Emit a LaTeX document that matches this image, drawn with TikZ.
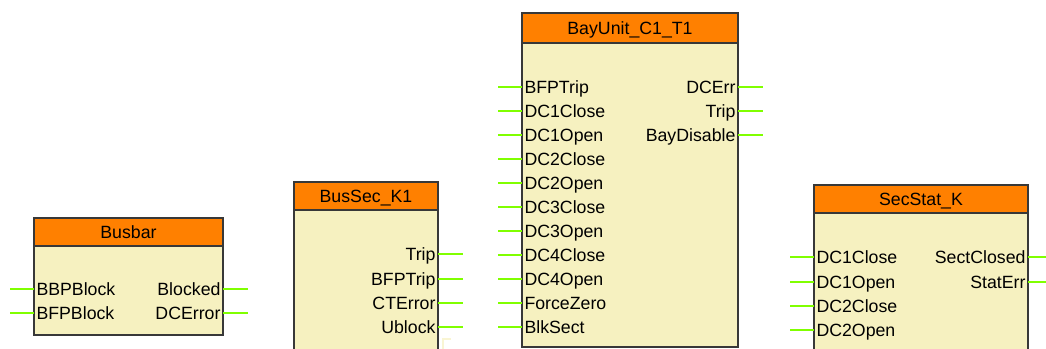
\documentclass[tikz,border=0pt]{standalone}
\usepackage{fontspec}
\setmainfont{Liberation Sans}

\definecolor{headorange}{RGB}{255,128,0}
\definecolor{bodyyellow}{RGB}{246,241,192}
\definecolor{wiregreen}{RGB}{128,255,0}
\definecolor{framegray}{RGB}{56,56,56}

\tikzset{every picture/.style={line width=0.75pt}}
\tikzset{
  blockbody/.style={draw=framegray, fill=bodyyellow, line width=1.6pt},
  blockhead/.style={draw=framegray, fill=headorange, line width=1.6pt},
  pinwire/.style={draw=wiregreen, line width=1.5pt},
  pinlabel/.style={inner sep=1.5pt, text height=9.4pt, text depth=0pt, font=\fontsize{13.3}{15}\selectfont},
  blocktitle/.style={inner sep=0.75pt, text height=9.4pt, text depth=0pt, font=\fontsize{13.3}{15}\selectfont}
}

\begin{document}
\begin{tikzpicture}[x=0.75pt,y=0.75pt,yscale=-1,xscale=1]
\useasboundingbox (0,0) rectangle (1046,349);
\clip (0,0) rectangle (1046,349);

%Free wire ends
\coordinate (bb-in1) at (10,289);
\coordinate (bb-in2) at (10,313);
\coordinate (bb-out1) at (248,289);
\coordinate (bb-out2) at (248,313);
\coordinate (bs-out1) at (463,254);
\coordinate (bs-out2) at (463,279);
\coordinate (bs-out3) at (463,303);
\coordinate (bs-out4) at (463,327);
\coordinate (bu-in1) at (498,87);
\coordinate (bu-in2) at (498,111);
\coordinate (bu-in3) at (498,135);
\coordinate (bu-in4) at (498,159);
\coordinate (bu-in5) at (498,183);
\coordinate (bu-in6) at (498,207);
\coordinate (bu-in7) at (498,231);
\coordinate (bu-in8) at (498,255);
\coordinate (bu-in9) at (498,279);
\coordinate (bu-in10) at (498,303);
\coordinate (bu-in11) at (498,327);
\coordinate (bu-out1) at (763,87);
\coordinate (bu-out2) at (763,111);
\coordinate (bu-out3) at (763,135);
\coordinate (ss-in1) at (790,257);
\coordinate (ss-in2) at (790,282);
\coordinate (ss-in3) at (790,306);
\coordinate (ss-in4) at (790,330);
\coordinate (ss-out1) at (1050,257);
\coordinate (ss-out2) at (1050,282);

%Shape: Rectangle [Busbar]
\draw [blockbody] (34,218) rectangle (223,335) ;
\draw [blockhead] (34,218) rectangle (223,246) ;
%Shape: Rectangle [BusSec_K1]
\draw [blockbody] (294,182) rectangle (438,365) ;
\draw [blockhead] (294,182) rectangle (438,210) ;
%Shape: Rectangle [BayUnit_C1_T1]
\draw [blockbody] (522,13) rectangle (738,347) ;
\draw [blockhead] (522,13) rectangle (738,43) ;
%Shape: Rectangle [SecStat_K]
\draw [blockbody] (814,185) rectangle (1028,365) ;
\draw [blockhead] (814,185) rectangle (1028,213) ;
%Straight Lines [faint corner mark]
\draw [draw=bodyyellow!70!white, line width=1.5pt] (443,349) -- (443,339) -- (451,339) ;

% Text Node
\draw (128.5,232) node [blocktitle] (bb-title) {Busbar};
% Text Node
\draw (366,196) node [blocktitle] (bs-title) {BusSec\_K1};
% Text Node
\draw (630,28) node [blocktitle] (bu-title) {BayUnit\_C1\_T1};
% Text Node
\draw (921,199) node [blocktitle] (ss-title) {SecStat\_K};

% Text Node
\draw (34,289) node [pinlabel, anchor=west] (bb-bbpblock) {BBPBlock};
\draw (34,313) node [pinlabel, anchor=west] (bb-bfpblock) {BFPBlock};
\draw (223,289) node [pinlabel, anchor=east] (bb-blocked) {Blocked};
\draw (223,313) node [pinlabel, anchor=east] (bb-dcerror) {DCError};

% Text Node
\draw (438,254) node [pinlabel, anchor=east] (bs-trip) {Trip};
\draw (438,279) node [pinlabel, anchor=east] (bs-bfptrip) {BFPTrip};
\draw (438,303) node [pinlabel, anchor=east] (bs-cterror) {CTError};
\draw (438,327) node [pinlabel, anchor=east] (bs-ublock) {Ublock};

% Text Node
\draw (522,87) node [pinlabel, anchor=west] (bu-bfptrip) {BFPTrip};
\draw (522,111) node [pinlabel, anchor=west] (bu-dc1close) {DC1Close};
\draw (522,135) node [pinlabel, anchor=west] (bu-dc1open) {DC1Open};
\draw (522,159) node [pinlabel, anchor=west] (bu-dc2close) {DC2Close};
\draw (522,183) node [pinlabel, anchor=west] (bu-dc2open) {DC2Open};
\draw (522,207) node [pinlabel, anchor=west] (bu-dc3close) {DC3Close};
\draw (522,231) node [pinlabel, anchor=west] (bu-dc3open) {DC3Open};
\draw (522,255) node [pinlabel, anchor=west] (bu-dc4close) {DC4Close};
\draw (522,279) node [pinlabel, anchor=west] (bu-dc4open) {DC4Open};
\draw (522,303) node [pinlabel, anchor=west] (bu-forcezero) {ForceZero};
\draw (522,327) node [pinlabel, anchor=west] (bu-blksect) {BlkSect};
\draw (738,87) node [pinlabel, anchor=east] (bu-dcerr) {DCErr};
\draw (738,111) node [pinlabel, anchor=east] (bu-trip) {Trip};
\draw (738,135) node [pinlabel, anchor=east] (bu-baydisable) {BayDisable};

% Text Node
\draw (814,257) node [pinlabel, anchor=west] (ss-dc1close) {DC1Close};
\draw (814,282) node [pinlabel, anchor=west] (ss-dc1open) {DC1Open};
\draw (814,306) node [pinlabel, anchor=west] (ss-dc2close) {DC2Close};
\draw (814,330) node [pinlabel, anchor=west] (ss-dc2open) {DC2Open};
\draw (1028,257) node [pinlabel, anchor=east] (ss-sectclosed) {SectClosed};
\draw (1028,282) node [pinlabel, anchor=east] (ss-staterr) {StatErr};

%Straight Lines [pin wires]
\draw [pinwire] (bb-in1) -- (bb-bbpblock.west) ;
\draw [pinwire] (bb-in2) -- (bb-bfpblock.west) ;
\draw [pinwire] (bb-blocked.east) -- (bb-out1) ;
\draw [pinwire] (bb-dcerror.east) -- (bb-out2) ;
\draw [pinwire] (bs-trip.east) -- (bs-out1) ;
\draw [pinwire] (bs-bfptrip.east) -- (bs-out2) ;
\draw [pinwire] (bs-cterror.east) -- (bs-out3) ;
\draw [pinwire] (bs-ublock.east) -- (bs-out4) ;
\draw [pinwire] (bu-in1) -- (bu-bfptrip.west) ;
\draw [pinwire] (bu-in2) -- (bu-dc1close.west) ;
\draw [pinwire] (bu-in3) -- (bu-dc1open.west) ;
\draw [pinwire] (bu-in4) -- (bu-dc2close.west) ;
\draw [pinwire] (bu-in5) -- (bu-dc2open.west) ;
\draw [pinwire] (bu-in6) -- (bu-dc3close.west) ;
\draw [pinwire] (bu-in7) -- (bu-dc3open.west) ;
\draw [pinwire] (bu-in8) -- (bu-dc4close.west) ;
\draw [pinwire] (bu-in9) -- (bu-dc4open.west) ;
\draw [pinwire] (bu-in10) -- (bu-forcezero.west) ;
\draw [pinwire] (bu-in11) -- (bu-blksect.west) ;
\draw [pinwire] (bu-dcerr.east) -- (bu-out1) ;
\draw [pinwire] (bu-trip.east) -- (bu-out2) ;
\draw [pinwire] (bu-baydisable.east) -- (bu-out3) ;
\draw [pinwire] (ss-in1) -- (ss-dc1close.west) ;
\draw [pinwire] (ss-in2) -- (ss-dc1open.west) ;
\draw [pinwire] (ss-in3) -- (ss-dc2close.west) ;
\draw [pinwire] (ss-in4) -- (ss-dc2open.west) ;
\draw [pinwire] (ss-sectclosed.east) -- (ss-out1) ;
\draw [pinwire] (ss-staterr.east) -- (ss-out2) ;

\end{tikzpicture}
\end{document}
